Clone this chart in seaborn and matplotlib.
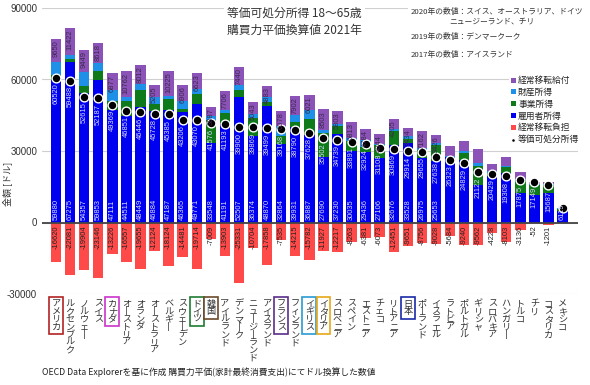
import numpy as np
import pandas as pd
import matplotlib
matplotlib.use("Agg")
import matplotlib.pyplot as plt
import seaborn as sns

sns.set_style("white")
plt.rcParams['font.family'] = ['Noto Sans CJK JP', 'DejaVu Sans']
plt.rcParams['axes.unicode_minus'] = False

# 国名（2021年 等価可処分所得の降順）
countries = ["アメリカ", "ルクセンブルク", "ノルウェー", "スイス", "カナダ", "オーストリア", "オランダ",
             "オーストラリア", "ベルギー", "スウェーデン", "ドイツ", "韓国", "アイルランド", "デンマーク",
             "ニュージーランド", "アイスランド", "フランス", "フィンランド", "イギリス", "イタリア",
             "スロベニア", "スペイン", "エストニア", "チェコ", "リトアニア", "日本", "ポーランド",
             "イスラエル", "ラトビア", "ポルトガル", "ギリシャ", "スロバキア", "ハンガリー", "トルコ",
             "チリ", "コスタリカ", "メキシコ"]

# 雇用者所得
employee = [59880, 67275, 54357, 59853, 47111, 44511, 48449, 46884, 47187, 46365, 49771, 33548, 41191,
            52507, 36374, 48870, 32864, 39931, 36887, 27690, 37230, 30035, 29436, 27106, 32676, 33528,
            26975, 25653, 27300, 26069, 15850, 19350, 20800, 12400, 11700, 12300, 5000]
# 事業所得
business = [2000, 1500, 2913, 3562, 3807, 6335, 7040, 2763, 4697, 1416, 4090, 9550, 4799,
            2884, 7356, 1604, 3461, 2372, 6702, 9836, 3400, 4106, 2085, 5331, 5739, 1500,
            3574, 6787, 300, 3100, 8034, 1507, 2411, 5411, 4101, 3388, 800]
# 財産所得
property_inc = [5610, 1372, 5800, 3300, 4800, 1800, 2600, 3000, 1400, 3000, 2300, 1600, 1400,
                2400, 1800, 2000, 4300, 2800, 3800, 1400, 523, 1200, 3000, 700, 700, 1103,
                700, 800, 307, 700, 900, 700, 700, 400, 400, 300, 150]
# 経常移転給付
transfers = [9650, 11422, 9449, 8618, 6877, 10762, 8012, 5205, 10225, 6906, 6623, 3887, 7706,
             7440, 5043, 4883, 6078, 7902, 6021, 8503, 5803, 6813, 4784, 4044, 4205, 3434,
             7162, 3426, 4100, 4200, 5900, 3100, 3500, 2800, 1000, 900, 169]
# 経常移転負担
paid = [-16620, -22081, -19904, -23146, -13226, -16557, -19655, -12124, -18124, -14481, -19714, -7009,
        -13903, -25331, -10704, -17858, -7535, -14215, -15782, -11927, -12217, -8263, -6381, -6073,
        -12451, -9651, -8756, -9028, -5684, -9240, -9562, -4228, -8103, -3136, -52, -1201, 0]
# 等価可処分所得
disposable = [60520, 59488, 52615, 52187, 49369, 46851, 46446, 45728, 45385, 43206, 43070, 41576,
              41193, 39900, 39869, 39499, 39168, 38790, 37628, 35502, 34739, 33891, 32924, 31108,
              30869, 29914, 29655, 27638, 26323, 24829, 21122, 20429, 19308, 17875, 17149, 15687, 6119]

# 内訳ラベルを表示する国数（イスラエルまで）
n_detail = 28

highlight = {"アメリカ": "#b22222", "カナダ": "#cc33cc", "ドイツ": "#1e7b34", "韓国": "#6b4a2b",
             "フランス": "#5b2c8c", "イギリス": "#2a9bd6", "イタリア": "#e6a817", "日本": "#1a2aa8"}

df = pd.DataFrame({"国": countries, "雇用者所得": employee, "事業所得": business,
                   "財産所得": property_inc, "経常移転給付": transfers,
                   "経常移転負担": paid, "等価可処分所得": disposable})
df["c1"] = df["雇用者所得"]
df["c2"] = df["c1"] + df["事業所得"]
df["c3"] = df["c2"] + df["財産所得"]
df["c4"] = df["c3"] + df["経常移転給付"]

fig = plt.figure(figsize=(5.9, 3.85), dpi=100)
ax = fig.add_axes([42 / 590, 1 - 294 / 385, 536 / 590, 286 / 385])

# 積み上げ（累積値を上から重ねる）
layers = [("経常移転給付", "c4", "#8b52b8"),
          ("財産所得", "c3", "#1e90e8"),
          ("事業所得", "c2", "#0e7a1a"),
          ("雇用者所得", "c1", "#0000f0"),
          ("経常移転負担", "経常移転負担", "#ff4a4a")]
for name, col, color in layers:
    sns.barplot(data=df, x="国", y=col, order=countries, color=color, saturation=1,
                width=0.74, linewidth=0, errorbar=None, label=name, ax=ax, zorder=2)

sns.scatterplot(data=df, x="国", y="等価可処分所得", color="black", s=40, edgecolor="white",
                linewidth=1, label="等価可処分所得", ax=ax, zorder=5)

# 数値ラベル
num_kw = dict(family="Liberation Sans", fontsize=5.4, rotation=90, ha="center", zorder=6)
for i in range(len(countries)):
    if disposable[i] > 15000:
        ax.text(i, disposable[i] - 2300, str(disposable[i]), va="top", color="#dcdcff", **num_kw)
    else:
        ax.text(i, 1000, str(disposable[i]), va="bottom", color="#dcdcff", **num_kw)
    if i < n_detail:
        ax.text(i, 1000, str(employee[i]), va="bottom", color="#dcdcff", **num_kw)
        ax.text(i, df["c4"][i] - 600, str(transfers[i]), va="top", color="#3a2a4a", **num_kw)
    if paid[i] != 0:
        ax.text(i, -1300, str(paid[i]), va="top", color="#222222", **num_kw)

ax.set_ylim(-30000, 90000)
ax.set_xlim(-1.0, 37.1)
yticks = [-30000, 0, 30000, 60000, 90000]
ax.set_yticks(yticks)
ax.set_yticklabels([str(v) for v in yticks], family="Liberation Sans", fontsize=7, color="#333333")
ax.yaxis.grid(True, color="#cfcfcf", lw=0.8, zorder=0)
ax.axhline(0, color="#444444", lw=1.3, zorder=4)
for s in ax.spines.values():
    s.set_visible(False)
ax.tick_params(axis="both", length=0)
ax.tick_params(axis="x", pad=4)

ax.set_xlabel("")
ax.set_ylabel("金額 [ドル]", fontsize=6.5, color="#333333")
ax.yaxis.set_label_coords(-0.056, 0.385)

# 縦書きの国名
ax.set_xticks(range(len(countries)))
ax.set_xticklabels(["\n".join(c.replace("ー", "丨")) for c in countries],
                   fontsize=6.6, linespacing=0.82, va="top", color="#333333")
for lab, c in zip(ax.get_xticklabels(), countries):
    if c in highlight:
        lab.set_bbox(dict(boxstyle="square,pad=0.25", fc="white", ec=highlight[c], lw=1.2))

# 凡例：等価可処分所得を最後に
handles, labels = ax.get_legend_handles_labels()
order = [labels.index(n) for n, _, _ in layers] + [labels.index("等価可処分所得")]
leg = ax.legend([handles[k] for k in order], [labels[k] for k in order],
                loc="upper left", bbox_to_anchor=(505 / 590, 1 - 70 / 385), bbox_transform=fig.transFigure,
                fontsize=6.3, frameon=True, facecolor="white", edgecolor="none", framealpha=1,
                fancybox=False, handlelength=0.5, handleheight=0.5, handletextpad=0.3,
                labelspacing=0.32, borderpad=0.2, markerscale=0.45)

fig.text(227 / 590, 1 - 7 / 385, "等価可処分所得 18〜65歳\n購買力平価換算値 2021年", fontsize=8.5,
         va="top", ha="left", linespacing=1.35, color="#333333",
         bbox=dict(fc="white", ec="none", pad=2))
note_kw = dict(fontsize=5.6, va="center", ha="left", color="#333333")
fig.text(411 / 590, 1 - 12 / 385, "2020年の数値：スイス、オーストラリア、ドイツ",
         bbox=dict(fc="white", ec="none", pad=2), **note_kw)
fig.text(449 / 590, 1 - 22 / 385, "ニュージーランド、チリ", **note_kw)
fig.text(411 / 590, 1 - 37 / 385, "2019年の数値：デンマークーク", **note_kw)
fig.text(411 / 590, 1 - 55 / 385, "2017年の数値：アイスランド", **note_kw)
fig.text(42 / 590, 1 - 372 / 385, "OECD Data Explorerを基に作成 購買力平価(家計最終消費支出)にてドル換算した数値",
         fontsize=6.3, va="center", ha="left", color="#222222")

fig.savefig("out.png", dpi=100)
